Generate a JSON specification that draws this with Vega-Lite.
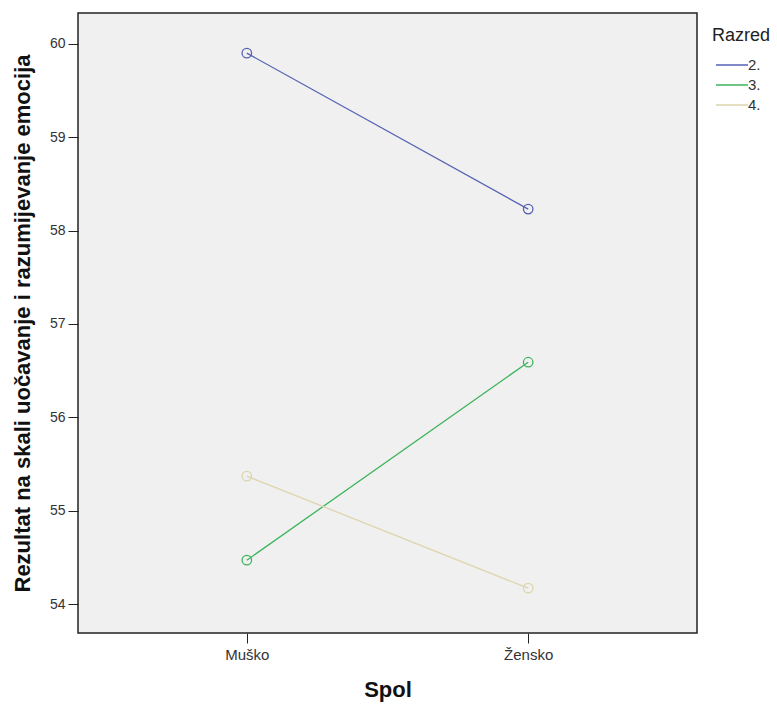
{
  "$schema": "https://vega.github.io/schema/vega-lite/v6.json",
  "autosize": {"type": "none"},
  "padding": {"left": 78, "top": 13, "right": 80, "bottom": 71},
  "width": 619,
  "height": 620,
  "background": "white",
  "config": {
    "view": {"fill": "#f0f0f0", "stroke": "#222222", "strokeWidth": 1.5},
    "font": "Liberation Sans"
  },
  "data": {
    "values": [
      {"Spol": "Muško", "Razred": "2.", "Rezultat": 59.90},
      {"Spol": "Žensko", "Razred": "2.", "Rezultat": 58.23},
      {"Spol": "Muško", "Razred": "3.", "Rezultat": 54.47},
      {"Spol": "Žensko", "Razred": "3.", "Rezultat": 56.59},
      {"Spol": "Muško", "Razred": "4.", "Rezultat": 55.37},
      {"Spol": "Žensko", "Razred": "4.", "Rezultat": 54.17}
    ]
  },
  "encoding": {
    "x": {
      "field": "Spol", "type": "nominal", "sort": ["Muško", "Žensko"],
      "scale": {"type": "point", "padding": 0.6},
      "axis": {
        "title": "Spol", "titleFontSize": 22, "titleFontWeight": "bold", "titleColor": "#111",
        "titlePadding": 17, "labelAngle": 0, "labelFontSize": 15, "labelColor": "#333",
        "tickColor": "#222", "tickSize": 10, "domain": false, "labelPadding": 4
      }
    },
    "y": {
      "field": "Rezultat", "type": "quantitative",
      "scale": {"domain": [53.69, 60.33], "nice": false, "zero": false},
      "axis": {
        "title": "Rezultat na skali uočavanje i razumijevanje emocija",
        "titleFontSize": 22, "titleFontWeight": "bold", "titleColor": "#111",
        "titlePadding": 15, "values": [54, 55, 56, 57, 58, 59, 60],
        "labelFontSize": 14, "labelColor": "#333", "tickColor": "#222", "tickSize": 10,
        "grid": false, "domain": false, "labelPadding": 3
      }
    },
    "color": {
      "field": "Razred", "type": "nominal",
      "scale": {"domain": ["2.", "3.", "4."], "range": ["#5662b4", "#3cb45c", "#ddd5ae"]},
      "legend": {
        "title": "Razred", "orient": "none", "legendX": 634, "legendY": 14,
        "titleFontSize": 18, "titleFontWeight": "normal", "titleColor": "#222",
        "labelFontSize": 15, "labelColor": "#333", "symbolType": "M-0.7,0L2.5,0",
        "symbolSize": 400, "symbolStrokeWidth": 1.5, "rowPadding": 1, "titlePadding": 9,
        "labelOffset": 14
      }
    }
  },
  "layer": [
    {"mark": {"type": "line", "strokeWidth": 1.3}},
    {"mark": {"type": "point", "filled": false, "size": 90, "strokeWidth": 1.3, "opacity": 1}}
  ]
}
